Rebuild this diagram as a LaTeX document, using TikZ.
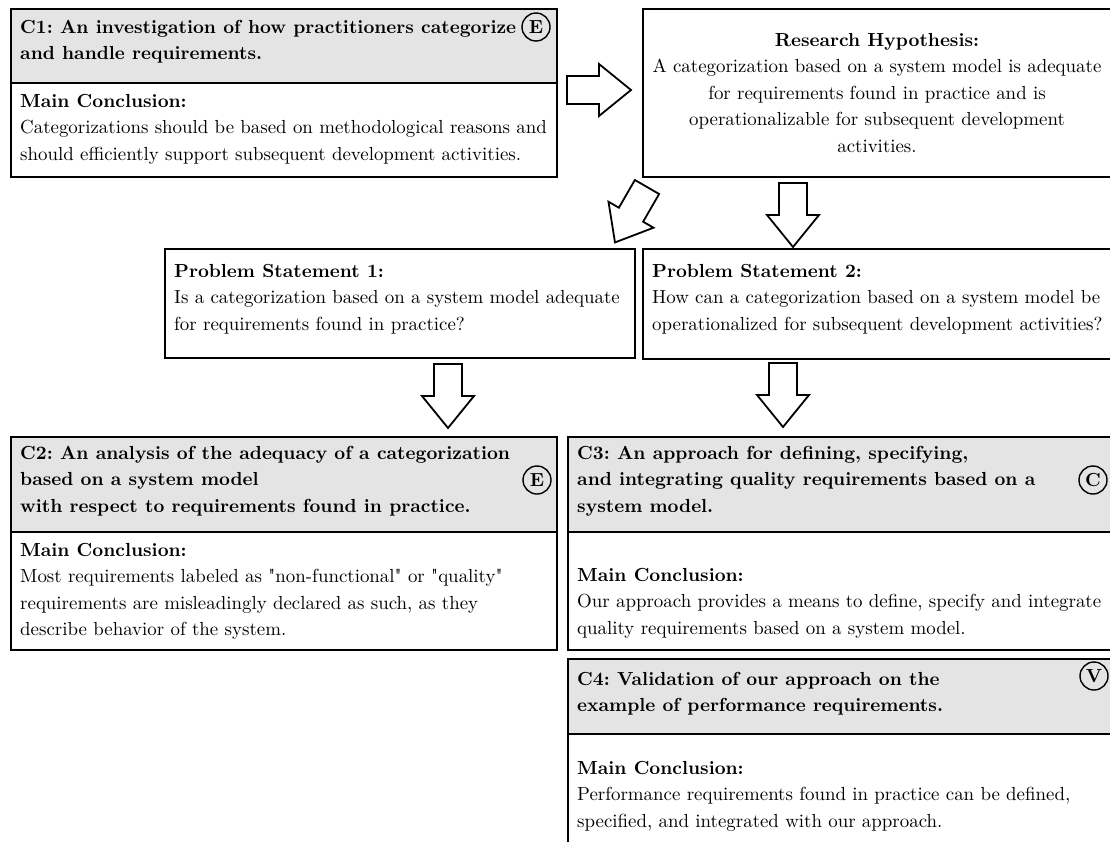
\documentclass[tikz,border=0pt]{standalone}
\usepackage{fontspec}
\setmainfont{lmroman10}[Extension=.otf, UprightFont=*-regular, BoldFont=*-bold, ItalicFont=*-italic, BoldItalicFont=*-bolditalic, Ligatures=TeXOff]
\frenchspacing
\definecolor{hgrey}{HTML}{E4E4E4}
\tikzset{
  box/.style={draw, line width=1.6pt, inner sep=0pt, rectangle, anchor=north west},
  headbox/.style={box, fill=hgrey},
  txt/.style={inner sep=0pt, anchor=north west, align=left, font=\fontsize{18.9}{26.5}\selectfont},
  ctxt/.style={inner sep=0pt, anchor=north, align=center, font=\fontsize{18.9}{26.5}\selectfont},
  badge/.style={circle, draw, line width=1.4pt, minimum size=28pt, inner sep=0pt, font=\fontsize{18.9}{26.5}\selectfont\bfseries},
  barrow/.pic={\draw[line width=1.8pt, fill=white, line join=miter]
     (0,-14) -- (32,-14) -- (32,-26) -- (64,0) -- (32,26) -- (32,14) -- (0,14) -- cycle;}
}
\begin{document}
\begin{tikzpicture}[x=1pt,y=-1pt]
\useasboundingbox (0,0) rectangle (1110,841);
\clip (0,0) rectangle (1110,841);
% C1
\node[headbox, minimum width=546pt, minimum height=74pt] (c1h) at (10,8) {};
\node[box, minimum width=546pt, minimum height=94pt] (c1b) at (10,82) {};
\node[txt] (c1ht) at (20,14.45) {\strut\bfseries C1: An investigation of how practitioners categorize\\\bfseries and handle requirements.};
\node[badge] (c1e) at (536,27) {E};
\node[txt] (c1bt) at (20,88.45) {\strut\bfseries Main Conclusion:\\Categorizations should be based on methodological reasons and\\should efficiently support subsequent development activities.};
% Research hypothesis
\node[box, minimum width=472pt, minimum height=168pt] (rh) at (642,8) {};
\node[ctxt] (rht) at (877,27.45) {\strut\bfseries Research Hypothesis:\\A categorization based on a system model is adequate\\for requirements found in practice and is\\operationalizable for subsequent development\\activities.};
% Problem statements
\node[box, minimum width=470pt, minimum height=109pt] (ps1) at (164,248) {};
\node[txt] (ps1t) at (174,258.45) {\strut\bfseries Problem Statement 1:\\Is a categorization based on a system model adequate\\for requirements found in practice?};
\node[box, minimum width=472pt, minimum height=110pt] (ps2) at (642,248) {};
\node[txt] (ps2t) at (652,258.45) {\strut\bfseries Problem Statement 2:\\How can a categorization based on a system model be\\operationalized for subsequent development activities?};
% C2
\node[headbox, minimum width=546pt, minimum height=95pt] (c2h) at (10,436) {};
\node[box, minimum width=546pt, minimum height=118pt] (c2b) at (10,531) {};
\node[txt] (c2ht) at (20,440.45) {\strut\bfseries C2: An analysis of the adequacy of a categorization\\\bfseries based on a system model\\\bfseries with respect to requirements found in practice.};
\node[badge] (c2e) at (537,480) {E};
\node[txt] (c2bt) at (20,537.45) {\strut\bfseries Main Conclusion:\\Most requirements labeled as "non-functional" or "quality"\\requirements are misleadingly declared as such, as they\\describe behavior of the system.};
% C3
\node[headbox, minimum width=547pt, minimum height=95pt] (c3h) at (567,436) {};
\node[box, minimum width=547pt, minimum height=118pt] (c3b) at (567,531) {};
\node[txt] (c3ht) at (577,440.45) {\strut\bfseries C3: An approach for defining, specifying,\\\bfseries and integrating quality requirements based on a\\\bfseries system model.};
\node[badge] (c3c) at (1093,480) {C};
\node[txt] (c3bt) at (577,562.45) {\strut\bfseries Main Conclusion:\\Our approach provides a means to define, specify and integrate\\quality requirements based on a system model.};
% C4
\node[headbox, minimum width=547pt, minimum height=75pt] (c4h) at (567,658) {};
\node[box, minimum width=547pt, minimum height=130pt] (c4b) at (567,733) {};
\node[txt] (c4ht) at (577,666.45) {\strut\bfseries C4: Validation of our approach on the\\\bfseries example of performance requirements.};
\node[badge] (c4v) at (1094,676) {V};
\node[txt] (c4bt) at (577,755.45) {\strut\bfseries Main Conclusion:\\Performance requirements found in practice can be defined,\\specified, and integrated with our approach.};
% block arrows
\pic (a1) at (567,90) {barrow};
\pic[rotate=-120] (a2) at (647,187) {barrow};
\pic[rotate=-90] (a3) at (793,183) {barrow};
\pic[rotate=-90] (a4) at (448,364) {barrow};
\pic[rotate=-90] (a5) at (783,363) {barrow};
\end{tikzpicture}
\end{document}
